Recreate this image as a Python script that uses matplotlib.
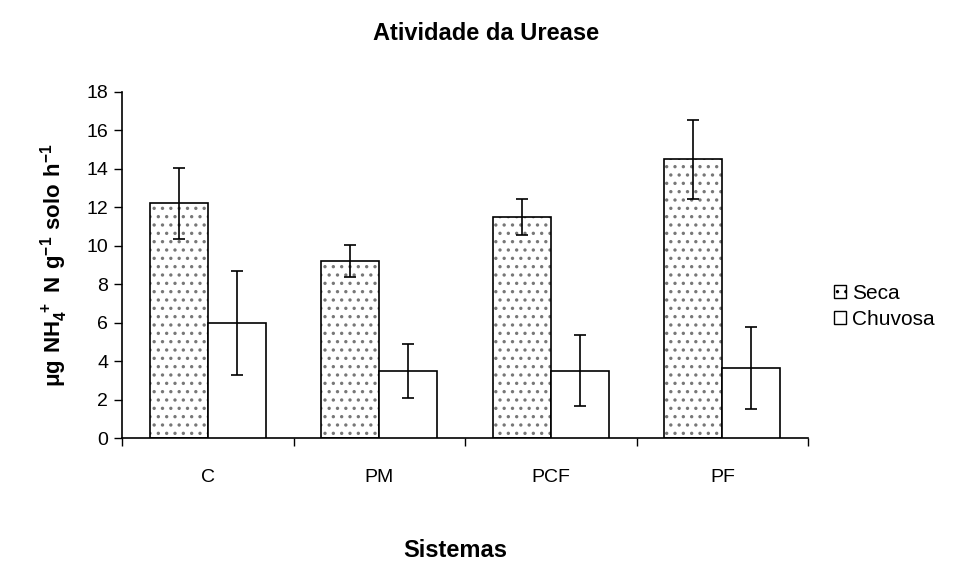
import numpy as np
import matplotlib
matplotlib.use('Agg')
import matplotlib.pyplot as plt
from matplotlib.patches import Patch

plt.rcParams['font.family'] = ['Liberation Sans', 'DejaVu Sans']
plt.rcParams['mathtext.fontset'] = 'custom'
plt.rcParams['mathtext.rm'] = 'Liberation Sans'
plt.rcParams['mathtext.bf'] = 'Liberation Sans:bold'
plt.rcParams['hatch.linewidth'] = 1.2

categories = ['C', 'PM', 'PCF', 'PF']
seca = [12.2, 9.2, 11.5, 14.5]
seca_err = [1.85, 0.85, 0.95, 2.05]
chuvosa = [6.0, 3.5, 3.5, 3.65]
chuvosa_err = [2.7, 1.4, 1.85, 2.15]

fig = plt.figure(figsize=(9.62, 5.66), dpi=100)
ax = fig.add_axes([0.1268, 0.2261, 0.7132, 0.6114])

x = np.arange(len(categories)) + 0.5
w = 0.338

# fundo pontilhado cinza + contorno preto
ax.bar(x - w/2, seca, w, color='white', edgecolor='#777777', hatch='..', linewidth=0, zorder=2)
ax.bar(x - w/2, seca, w, fill=False, edgecolor='black', linewidth=1.2, zorder=3)
ax.bar(x + w/2, chuvosa, w, color='white', edgecolor='black', linewidth=1.2, zorder=3)

ek = dict(fmt='none', ecolor='black', elinewidth=1.2, capsize=4.5, capthick=1.2, zorder=4)
ax.errorbar(x - w/2, seca, yerr=seca_err, **ek)
ax.errorbar(x + w/2, chuvosa, yerr=chuvosa_err, **ek)

ax.set_xlim(0, 4)
ax.set_ylim(0, 18)
ax.set_yticks(range(0, 19, 2))
ax.set_xticks(range(0, 5))
ax.set_xticklabels([])
ax.set_xticks(x, minor=True)
ax.set_xticklabels(categories, minor=True)
ax.tick_params(axis='x', which='minor', length=0, pad=22, labelsize=14)
ax.tick_params(axis='x', which='major', length=6, width=1, direction='out')
ax.tick_params(axis='y', length=6, width=1, direction='out', labelsize=14, pad=4)
for s in ['top', 'right']:
    ax.spines[s].set_visible(False)
for s in ['left', 'bottom']:
    ax.spines[s].set_linewidth(1.2)

ax.set_ylabel(r'$\mathbf{\mu g\ NH_4^{\ +}\ N\ g^{-1}\ solo\ h^{-1}}$', fontsize=16, labelpad=12)
fig.text(0.505, 0.940, 'Atividade da Urease', ha='center', va='center', fontsize=17, fontweight='bold')
fig.text(0.473, 0.028, 'Sistemas', ha='center', va='center', fontsize=17, fontweight='bold')

handles = [Patch(facecolor='white', edgecolor='black', hatch='..', linewidth=1),
           Patch(facecolor='white', edgecolor='black', linewidth=1)]
ax.legend(handles, ['Seca', 'Chuvosa'], loc='center left', bbox_to_anchor=(1.01, 0.38),
          frameon=False, fontsize=15, handlelength=0.6, handleheight=0.6, handletextpad=0.3,
          labelspacing=0.35)

fig.savefig('out.png', dpi=100)
